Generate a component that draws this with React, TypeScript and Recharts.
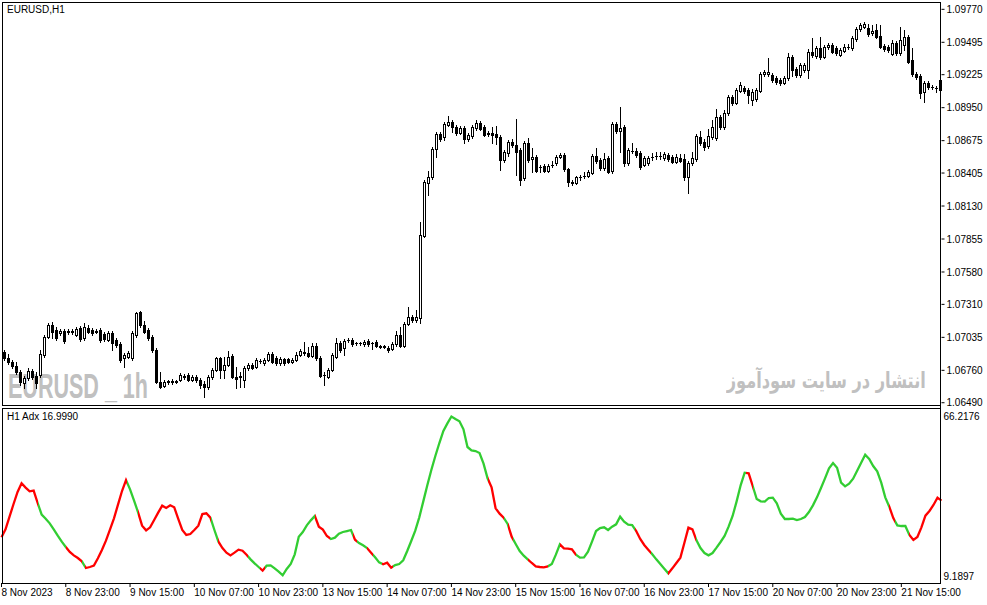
import React from 'react';
import { ComposedChart, Bar, Line, XAxis, YAxis } from 'recharts';

const opens = [1.06914,1.06864,1.06831,1.06798,1.06748,1.06657,1.06698,1.06757,1.06715,1.06723,1.06889,1.07040,1.07139,1.07098,1.07073,1.07090,1.07081,1.07090,1.07056,1.07114,1.07031,1.07114,1.07098,1.07090,1.07098,1.07065,1.07015,1.07073,1.07015,1.06982,1.06864,1.06873,1.06864,1.07056,1.07247,1.07139,1.07098,1.07040,1.06931,1.06665,1.06632,1.06665,1.06665,1.06667,1.06682,1.06715,1.06723,1.06682,1.06707,1.06682,1.06649,1.06624,1.06707,1.06765,1.06864,1.06765,1.06806,1.06881,1.06707,1.06705,1.06682,1.06781,1.06806,1.06790,1.06840,1.06823,1.06848,1.06898,1.06864,1.06823,1.06856,1.06856,1.06831,1.06848,1.06889,1.06914,1.06906,1.06881,1.06965,1.06864,1.06725,1.06707,1.06765,1.06873,1.06990,1.06948,1.07015,1.07015,1.06990,1.06984,1.06982,1.07007,1.06992,1.06998,1.06959,1.06955,1.06948,1.06940,1.06982,1.07056,1.06965,1.07148,1.07206,1.07181,1.07197,1.07880,1.08322,1.08372,1.08605,1.08730,1.08705,1.08804,1.08829,1.08788,1.08738,1.08779,1.08688,1.08713,1.08779,1.08821,1.08788,1.08738,1.08738,1.08730,1.08705,1.08513,1.08571,1.08663,1.08638,1.08596,1.08363,1.08655,1.08521,1.08538,1.08457,1.08463,1.08422,1.08470,1.08488,1.08538,1.08555,1.08438,1.08330,1.08322,1.08370,1.08378,1.08380,1.08405,1.08546,1.08513,1.08447,1.08530,1.08422,1.08813,1.08755,1.08788,1.08488,1.08590,1.08588,1.08571,1.08472,1.08488,1.08540,1.08544,1.08548,1.08530,1.08555,1.08538,1.08497,1.08530,1.08521,1.08372,1.08488,1.08521,1.08705,1.08663,1.08630,1.08705,1.08697,1.08871,1.08788,1.08904,1.09037,1.08988,1.09088,1.09112,1.09096,1.09012,1.09021,1.09088,1.09229,1.09229,1.09221,1.09196,1.09179,1.09154,1.09196,1.09371,1.09271,1.09221,1.09262,1.09262,1.09412,1.09379,1.09446,1.09371,1.09454,1.09471,1.09446,1.09387,1.09421,1.09452,1.09446,1.09520,1.09604,1.09620,1.09612,1.09570,1.09595,1.09545,1.09462,1.09454,1.09396,1.09487,1.09404,1.09471,1.09537,1.09346,1.09229,1.09212,1.09079,1.09154,1.09119,1.09115,1.09096];

const highs = [1.06931,1.06898,1.06848,1.06831,1.06765,1.06715,1.06781,1.06773,1.06748,1.06931,1.07056,1.07156,1.07164,1.07123,1.07106,1.07106,1.07106,1.07106,1.07123,1.07131,1.07156,1.07139,1.07114,1.07106,1.07114,1.07081,1.07090,1.07090,1.07031,1.06998,1.06906,1.06923,1.07090,1.07247,1.07256,1.07173,1.07114,1.07056,1.06948,1.06748,1.06682,1.06682,1.06686,1.06682,1.06740,1.06732,1.06740,1.06723,1.06723,1.06698,1.06674,1.06723,1.06781,1.06873,1.06873,1.06873,1.06923,1.06898,1.06790,1.06748,1.06798,1.06823,1.06823,1.06864,1.06856,1.06864,1.06914,1.06914,1.06881,1.06873,1.06864,1.06864,1.06864,1.06914,1.06940,1.06998,1.06957,1.06990,1.06990,1.06881,1.06748,1.06781,1.06906,1.07031,1.07007,1.07023,1.07031,1.07031,1.06998,1.06998,1.07015,1.07023,1.06998,1.07015,1.06973,1.06973,1.06965,1.06998,1.07090,1.07123,1.07164,1.07290,1.07223,1.07264,1.07997,1.08347,1.08422,1.08622,1.08746,1.08746,1.08829,1.08879,1.08846,1.08804,1.08796,1.08796,1.08738,1.08804,1.08846,1.08838,1.08804,1.08755,1.08788,1.08796,1.08721,1.08596,1.08680,1.08688,1.08854,1.08613,1.08672,1.08697,1.08613,1.08555,1.08472,1.08480,1.08480,1.08505,1.08555,1.08571,1.08571,1.08447,1.08347,1.08380,1.08388,1.08413,1.08430,1.08563,1.08613,1.08530,1.08571,1.08546,1.08829,1.08829,1.08954,1.08804,1.08613,1.08655,1.08613,1.08588,1.08546,1.08546,1.08571,1.08580,1.08580,1.08580,1.08571,1.08555,1.08563,1.08563,1.08563,1.08505,1.08580,1.08730,1.08755,1.08688,1.08771,1.08846,1.08938,1.08888,1.08929,1.09054,1.09054,1.09112,1.09162,1.09129,1.09112,1.09104,1.09112,1.09245,1.09262,1.09362,1.09237,1.09212,1.09196,1.09212,1.09404,1.09387,1.09287,1.09321,1.09321,1.09437,1.09529,1.09462,1.09537,1.09471,1.09487,1.09487,1.09462,1.09446,1.09479,1.09479,1.09545,1.09620,1.09654,1.09662,1.09645,1.09637,1.09645,1.09637,1.09479,1.09471,1.09512,1.09504,1.09620,1.09595,1.09554,1.09446,1.09245,1.09229,1.09171,1.09171,1.09137,1.09129,1.09196];

const lows = [1.06848,1.06815,1.06781,1.06732,1.06640,1.06615,1.06682,1.06690,1.06615,1.06707,1.06873,1.07031,1.07031,1.07015,1.07056,1.06990,1.07065,1.07065,1.07048,1.07007,1.07015,1.07073,1.07056,1.07073,1.06998,1.07007,1.07007,1.06931,1.06957,1.06831,1.06790,1.06864,1.06848,1.07040,1.07123,1.07073,1.07015,1.06914,1.06657,1.06615,1.06624,1.06649,1.06649,1.06653,1.06674,1.06690,1.06674,1.06674,1.06665,1.06615,1.06540,1.06607,1.06690,1.06757,1.06698,1.06698,1.06798,1.06698,1.06615,1.06624,1.06624,1.06765,1.06773,1.06781,1.06823,1.06806,1.06840,1.06823,1.06806,1.06806,1.06806,1.06823,1.06823,1.06840,1.06881,1.06889,1.06873,1.06873,1.06848,1.06707,1.06640,1.06698,1.06757,1.06864,1.06914,1.06889,1.06998,1.06965,1.06973,1.06973,1.06965,1.06965,1.06940,1.06957,1.06948,1.06948,1.06914,1.06931,1.06965,1.06957,1.06957,1.07139,1.07164,1.07164,1.07156,1.07872,1.08221,1.08355,1.08538,1.08672,1.08680,1.08796,1.08746,1.08721,1.08730,1.08655,1.08672,1.08697,1.08763,1.08763,1.08713,1.08713,1.08655,1.08647,1.08430,1.08497,1.08546,1.08622,1.08388,1.08305,1.08347,1.08497,1.08413,1.08413,1.08413,1.08413,1.08413,1.08455,1.08472,1.08530,1.08422,1.08297,1.08305,1.08313,1.08347,1.08363,1.08372,1.08397,1.08488,1.08430,1.08430,1.08405,1.08405,1.08738,1.08580,1.08463,1.08472,1.08571,1.08538,1.08438,1.08463,1.08472,1.08513,1.08521,1.08521,1.08513,1.08505,1.08488,1.08488,1.08497,1.08347,1.08238,1.08472,1.08505,1.08638,1.08596,1.08613,1.08688,1.08680,1.08771,1.08771,1.08888,1.08971,1.08979,1.09079,1.09071,1.08988,1.08971,1.09004,1.09079,1.09212,1.09212,1.09162,1.09146,1.09137,1.09146,1.09179,1.09212,1.09204,1.09204,1.09246,1.09196,1.09371,1.09362,1.09354,1.09362,1.09437,1.09404,1.09387,1.09379,1.09412,1.09437,1.09429,1.09504,1.09587,1.09612,1.09545,1.09554,1.09529,1.09446,1.09421,1.09412,1.09387,1.09387,1.09387,1.09429,1.09321,1.09212,1.09187,1.09029,1.08996,1.09104,1.09104,1.09079,1.09088];

const closes = [1.06864,1.06831,1.06798,1.06748,1.06665,1.06698,1.06757,1.06707,1.06657,1.06898,1.07040,1.07139,1.07081,1.07031,1.07090,1.07007,1.07090,1.07081,1.07106,1.07023,1.07123,1.07081,1.07073,1.07081,1.07015,1.07023,1.07073,1.06990,1.06973,1.06848,1.06889,1.06906,1.07073,1.07239,1.07139,1.07081,1.07031,1.06931,1.06665,1.06624,1.06665,1.06668,1.06670,1.06663,1.06723,1.06707,1.06682,1.06707,1.06682,1.06640,1.06624,1.06707,1.06765,1.06864,1.06765,1.06806,1.06873,1.06707,1.06690,1.06709,1.06781,1.06806,1.06781,1.06848,1.06842,1.06848,1.06898,1.06831,1.06823,1.06856,1.06823,1.06831,1.06848,1.06889,1.06923,1.06906,1.06881,1.06965,1.06864,1.06715,1.06721,1.06765,1.06889,1.06990,1.06931,1.07007,1.07013,1.06982,1.06986,1.06988,1.06998,1.06982,1.06988,1.06965,1.06955,1.06959,1.06931,1.06982,1.07056,1.06965,1.07148,1.07206,1.07181,1.07206,1.07888,1.08330,1.08372,1.08605,1.08730,1.08688,1.08813,1.08829,1.08788,1.08738,1.08779,1.08688,1.08721,1.08788,1.08821,1.08771,1.08721,1.08730,1.08721,1.08705,1.08513,1.08580,1.08663,1.08638,1.08580,1.08347,1.08655,1.08513,1.08538,1.08422,1.08453,1.08422,1.08463,1.08474,1.08538,1.08555,1.08438,1.08330,1.08322,1.08372,1.08374,1.08382,1.08413,1.08546,1.08505,1.08447,1.08521,1.08413,1.08813,1.08755,1.08779,1.08488,1.08596,1.08586,1.08555,1.08455,1.08530,1.08530,1.08536,1.08548,1.08544,1.08563,1.08521,1.08497,1.08538,1.08505,1.08372,1.08488,1.08530,1.08713,1.08655,1.08622,1.08713,1.08788,1.08871,1.08788,1.08904,1.09037,1.08988,1.09096,1.09137,1.09088,1.09054,1.09079,1.09096,1.09229,1.09245,1.09245,1.09179,1.09162,1.09154,1.09196,1.09371,1.09262,1.09221,1.09304,1.09304,1.09412,1.09387,1.09446,1.09371,1.09454,1.09471,1.09412,1.09404,1.09429,1.09454,1.09456,1.09529,1.09604,1.09637,1.09645,1.09562,1.09587,1.09537,1.09454,1.09437,1.09429,1.09487,1.09404,1.09512,1.09537,1.09329,1.09229,1.09204,1.09071,1.09154,1.09121,1.09123,1.09110,1.09179];

const adxValues = [23.15,26.01,30.52,35.03,39.31,42.40,40.86,39.55,39.79,35.39,31.23,29.81,28.14,26.01,23.75,21.61,19.71,17.93,16.74,15.79,14.60,12.22,12.58,13.06,15.67,18.64,21.97,25.89,29.93,34.80,39.67,43.59,40.26,36.22,32.06,27.31,25.65,26.72,29.33,31.95,34.44,33.61,34.56,33.85,29.69,25.77,23.99,24.34,25.77,27.31,31.47,31.71,30.16,25.77,21.61,19.35,17.69,16.74,17.69,18.76,18.40,16.98,15.31,13.89,12.58,11.27,13.06,13.18,12.11,10.92,9.61,11.87,13.65,17.10,23.39,25.06,27.43,29.21,30.76,26.96,25.89,23.63,22.56,23.04,24.46,25.06,25.41,25.77,22.32,21.13,20.30,19.35,17.69,16.03,14.24,13.53,14.13,12.34,13.29,13.65,14.96,18.28,21.85,25.53,30.28,35.98,41.69,47.15,52.14,56.77,61.05,63.78,66.22,65.33,64.50,61.65,55.35,54.16,53.92,53.21,49.41,44.18,40.97,33.49,31.59,30.16,27.91,23.39,20.78,18.28,16.62,15.31,14.01,12.82,12.58,12.46,12.82,13.65,16.98,20.66,19.23,19.12,18.88,16.98,15.91,16.03,18.05,21.61,25.41,26.48,26.72,25.77,26.96,27.79,30.52,28.74,27.67,27.55,25.41,22.56,20.42,18.76,17.10,15.31,13.65,11.99,10.32,12.11,14.01,15.91,21.25,26.60,26.01,22.09,19.35,17.57,16.74,17.57,19.47,21.49,23.63,26.96,30.76,35.98,41.69,46.20,45.96,41.45,36.82,35.98,35.87,37.17,37.29,35.27,31.59,29.69,29.69,29.81,29.33,29.69,30.40,32.18,34.56,37.41,40.74,44.18,47.75,49.65,47.98,42.64,41.33,42.28,44.06,46.91,49.77,52.62,51.07,48.58,46.68,42.64,37.41,34.08,30.04,27.43,27.19,27.19,23.99,22.20,23.27,26.72,30.88,32.54,34.68,37.29,36.22];

// bar positions where the ADX line changes colour, and the colour of each run
const adxBreaks = [9,16,20,20.8,31.2,34.1,52.2,54,61.3,64.3,65.5,78,81.8,87.6,88.5,91,92.6,94.7,97.4,121,125.2,126.2,127.3,131,136,139,143.1,157.7,161.6,166,173,185.4,187.2,221,222.3,226];
const adxRunColors = ['red','green','red','green','red','green','red','green','red','green','red','green','red','green','red','green','red','green','red','green','red','green','red','green','red','green','red','green','red','green','red','green','red','green','red','green','red'];

const xTickIndex = [0,16,32,48,64,80,96,112,128,144,160,176,192,208,224];
const xTickLabels = ['8 Nov 2023','8 Nov 23:00','9 Nov 15:00','10 Nov 07:00','10 Nov 23:00','13 Nov 15:00','14 Nov 07:00','14 Nov 23:00','15 Nov 15:00','16 Nov 07:00','16 Nov 23:00','17 Nov 15:00','20 Nov 07:00','20 Nov 23:00','21 Nov 15:00'];
const priceTicks = [1.0977,1.09495,1.09225,1.0895,1.08675,1.08405,1.0813,1.07855,1.0758,1.0731,1.07035,1.0676,1.0649];
const adxTicks = [66.2176, 9.1897];

const COLORS: Record<string, string> = { red: '#FF0000', green: '#32CD32' };
const FONT = '"Liberation Sans", Arial, sans-serif';

const data = opens.map((o, i) => ({
  i,
  open: o,
  high: highs[i],
  low: lows[i],
  close: closes[i],
  adx: adxValues[i],
}));

const N = data.length;

const Candle = (props: any) => {
  const { x, y, width, height, payload } = props;
  if (!payload || height == null) return null;
  const { open, close, high, low } = payload;
  const cx = Math.floor(x + width / 2) + 0.5;
  const range = high - low || 1e-9;
  const yOf = (v: number) => y + ((high - v) / range) * height;
  const top = Math.round(yOf(Math.max(open, close))) + 0.5;
  const bot = Math.round(yOf(Math.min(open, close))) + 0.5;
  const bull = close >= open;
  return (
    <g>
      <line x1={cx} x2={cx} y1={Math.round(yOf(high))} y2={Math.round(yOf(low)) + 1} stroke="#000" strokeWidth={1} />
      {bot - top < 1 ? (
        <line x1={cx - 1.5} x2={cx + 1.5} y1={top} y2={top} stroke="#000" strokeWidth={1} />
      ) : (
        <rect x={cx - 1} y={top} width={2} height={bot - top} fill={bull ? '#fff' : '#000'} stroke="#000" strokeWidth={1} />
      )}
    </g>
  );
};

const XTick = (props: any) => {
  const { x, y, payload } = props;
  const idx = xTickIndex.indexOf(payload.value);
  if (idx < 0) return null;
  return (
    <text x={x} y={y} dy="0.71em" fontSize={10} fontFamily={FONT} fill="#000" textAnchor="start">
      {xTickLabels[idx]}
    </text>
  );
};

const gradStops: any[] = [];
adxRunColors.forEach((c, k) => {
  const from = k === 0 ? 0 : adxBreaks[k - 1];
  const to = k === adxRunColors.length - 1 ? N - 1 : adxBreaks[k];
  gradStops.push(<stop key={`a${k}`} offset={from / (N - 1)} stopColor={COLORS[c]} />);
  gradStops.push(<stop key={`b${k}`} offset={to / (N - 1)} stopColor={COLORS[c]} />);
});

export default function App() {
  return (
    <div style={{ position: 'absolute', left: 0, top: 0, width: 987, height: 605, background: '#fff', overflow: 'hidden' }}>
      <svg width={987} height={605} style={{ position: 'absolute', left: 0, top: 0 }}>
        <text x={8} y={398} fontSize={35} fontWeight="bold" fontFamily='"Liberation Sans Narrow", "Liberation Sans", Arial' fill="#C0C0C0" textLength={140} lengthAdjust="spacingAndGlyphs">EURUSD _ 1h</text>
      </svg>
      <div style={{ position: 'absolute', right: 61, top: 366, fontSize: 22, fontWeight: 'bold', fontFamily: '"DejaVu Sans", sans-serif', color: '#C0C0C0', direction: 'rtl', whiteSpace: 'nowrap', lineHeight: '30px', transform: 'scaleX(0.735)', transformOrigin: 'right center' }}>انتشار در سایت سودآموز</div>

      <div style={{ position: 'absolute', left: 0, top: 0 }}>
        <ComposedChart width={987} height={408} data={data} margin={{ top: 2, right: 0, bottom: 3, left: 1.5 }} barCategoryGap={0}>
          <XAxis dataKey="i" type="category" hide />
          <YAxis
            orientation="right"
            type="number"
            domain={[1.06471, 1.09831]}
            allowDataOverflow
            ticks={priceTicks}
            interval={0}
            width={45.5}
            axisLine={false}
            tickLine={{ stroke: '#000' }}
            tickSize={3}
            tickMargin={2}
            tickFormatter={(v: number) => v.toFixed(5)}
            tick={{ fontSize: 10, fill: '#000', fontFamily: FONT }}
          />
          <Bar dataKey={(d: any) => [d.low, d.high]} barSize={3} shape={(p: any) => <Candle {...p} />} isAnimationActive={false} />
        </ComposedChart>
      </div>

      <div style={{ position: 'absolute', left: 0, top: 408 }}>
        <ComposedChart width={987} height={197} data={data} margin={{ top: 0, right: 0, bottom: 0, left: 1.5 }}>
          <defs>
            <linearGradient id="adxGrad" x1="0" y1="0" x2="1" y2="0">
              {gradStops}
            </linearGradient>
          </defs>
          <XAxis
            dataKey="i"
            type="category"
            ticks={xTickIndex}
            interval={0}
            height={22}
            axisLine={false}
            tickLine={{ stroke: '#000' }}
            tickSize={4}
            tickMargin={2}
            tick={<XTick />}
          />
          <YAxis
            orientation="right"
            type="number"
            domain={[6.88, 69.25]}
            allowDataOverflow
            ticks={adxTicks}
            interval={0}
            width={45.5}
            axisLine={false}
            tickLine={false}
            tickSize={0}
            tickMargin={2}
            tickFormatter={(v: number) => v.toFixed(4)}
            tick={{ fontSize: 10, fill: '#000', fontFamily: FONT }}
          />
          <Line dataKey="adx" type="linear" stroke="url(#adxGrad)" strokeWidth={2.3} dot={false} activeDot={false} isAnimationActive={false} />
        </ComposedChart>
      </div>

      <div style={{ position: 'absolute', left: 2, top: 2, width: 939, height: 404, border: '1px solid #000', boxSizing: 'border-box', pointerEvents: 'none' }} />
      <div style={{ position: 'absolute', left: 2, top: 408, width: 939, height: 176, border: '1px solid #000', boxSizing: 'border-box', pointerEvents: 'none' }} />
      <div style={{ position: 'absolute', left: 940, top: 2, width: 1, height: 582, background: '#000', pointerEvents: 'none' }} />

      <div style={{ position: 'absolute', left: 7, top: 4, fontSize: 10, fontFamily: FONT, color: '#000', lineHeight: '12px', whiteSpace: 'nowrap' }}>EURUSD,H1</div>
      <div style={{ position: 'absolute', left: 7, top: 411, fontSize: 10, fontFamily: FONT, color: '#000', lineHeight: '12px', whiteSpace: 'nowrap' }}>H1 Adx 16.9990</div>
    </div>
  );
}
